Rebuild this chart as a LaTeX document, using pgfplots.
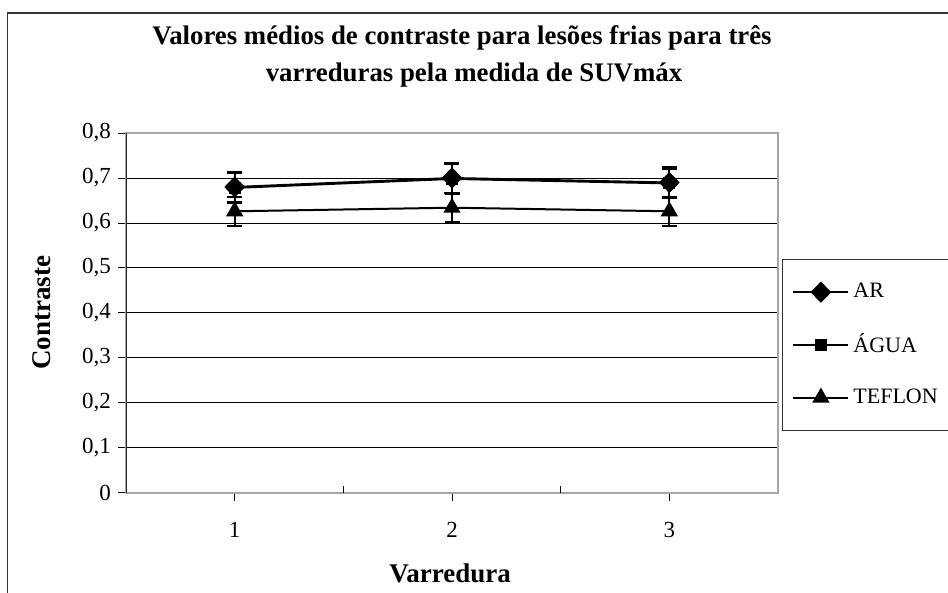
\documentclass[border=0pt]{standalone}
\usepackage{fontspec}
\setmainfont{Liberation Serif}
\usepackage{pgfplots}
\pgfplotsset{compat=1.18}

\begin{document}
\begin{tikzpicture}[x=1pt,y=1pt]
\useasboundingbox (0,0) rectangle (474,296.5);
\clip (0,0) rectangle (474,296.5);
% chart frame (cut at right and bottom like the reference)
\draw[line width=0.6pt, black!80] (3.75,-5) -- (3.75,290) -- (480,290);

\begin{axis}[
    at={(63pt,50pt)}, anchor=south west,
    scale only axis, width=326pt, height=180pt,
    xmin=0.5, xmax=3.5, ymin=0, ymax=0.8,
    xtick={1,2,3},
    ytick={0,0.1,0.2,0.3,0.4,0.5,0.6,0.7,0.8},
    xtick pos=bottom, ytick pos=left,
    tick align=outside,
    major tick length=4pt,
    tick style={black, line width=0.5pt},
    axis line style={draw=gray!70, line width=0.6pt},
    ymajorgrids=true,
    major grid style={black, line width=0.5pt},
    /pgf/number format/use comma,
    /pgf/number format/fixed,
    /pgf/number format/precision=1,
    /pgf/number format/assume math mode=true,
    ticklabel style={font=\fontsize{11.5}{13}\selectfont},
    xticklabel style={yshift=-7pt},
    legend image code/.code={
        \draw[mark repeat=2,mark phase=2] plot coordinates {(0pt,0pt)(13.75pt,0pt)(27.5pt,0pt)};},
    legend style={name=leg, at={(1,0.65)}, anchor=north west, xshift=2pt,
        draw=none, fill=none,
        inner xsep=5pt, inner ysep=10pt,
        row sep=12.5pt, column sep=0pt,
        font=\fontsize{11}{12}\selectfont,
        cells={anchor=west}},
]

\addplot[black, line width=1pt, mark=diamond*,
    mark options={solid, mark size=4.6pt, xscale=1.3},
    error bars/.cd, y dir=both, y explicit,
    error bar style={line width=1pt, black},
    error mark options={rotate=90, line width=1pt, mark size=3.75pt, black}]
    coordinates {
    (1,0.680) +- (0,0.034)
    (2,0.700) +- (0,0.033)
    (3,0.690) +- (0,0.034)
    };

\addplot[black, line width=1pt, mark=square*,
    mark options={solid, mark size=2.5pt},
    error bars/.cd, y dir=both, y explicit,
    error bar style={line width=1pt, black},
    error mark options={rotate=90, line width=1pt, mark size=3.75pt, black}]
    coordinates {
    (1,0.678) +- (0,0.033)
    (2,0.698) +- (0,0.033)
    (3,0.688) +- (0,0.033)
    };

\addplot[black, line width=1pt, mark=triangle*,
    mark options={solid, mark size=4pt},
    error bars/.cd, y dir=both, y explicit,
    error bar style={line width=1pt, black},
    error mark options={rotate=90, line width=1pt, mark size=3.75pt, black}]
    coordinates {
    (1,0.626) +- (0,0.032)
    (2,0.634) +- (0,0.032)
    (3,0.626) +- (0,0.032)
    };

\legend{AR, ÁGUA, TEFLON}

% dark left axis and inner ticks between categories
\draw[black!85, line width=0.8pt] (rel axis cs:0,0) -- (rel axis cs:0,1);
\draw[black, line width=0.5pt] (axis cs:1.5,0) -- ++(0pt,3.5pt);
\draw[black, line width=0.5pt] (axis cs:2.5,0) -- ++(0pt,3.5pt);
\end{axis}

% cover whatever sits at the right edge beside the legend
\fill[white] (471.5,60) rectangle (480,200);
% legend frame, running off the right edge like the reference
\draw[black!80, line width=0.5pt] (leg.north west) -- ++(120pt,0pt);
\draw[black!80, line width=0.5pt] (leg.south west) -- ++(120pt,0pt);
\draw[black!80, line width=0.5pt] (leg.north west) -- (leg.south west);

\node[anchor=base, font=\fontsize{13.4}{15}\bfseries] at (231,274)
    {Valores médios de contraste para lesões frias para três};
\node[anchor=base, font=\fontsize{13.4}{15}\bfseries] at (237,255.5)
    {varreduras pela medida de SUVmáx};
\node[rotate=90, font=\fontsize{13.5}{15}\bfseries] at (21,140) {Contraste};
\node[anchor=base, font=\fontsize{13.5}{15}\bfseries] at (225,5) {Varredura};
\end{tikzpicture}
\end{document}
